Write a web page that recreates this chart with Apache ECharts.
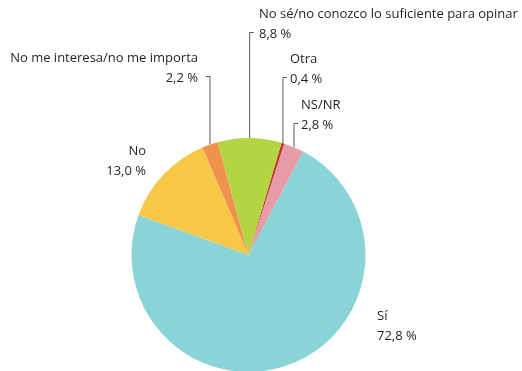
<!DOCTYPE html>
<html><head><meta charset="utf-8">
<script src="https://cdn.jsdelivr.net/npm/echarts@6/dist/echarts.min.js"></script>
<style>html,body{margin:0;padding:0;background:#fff}#c{width:522px;height:371px}</style>
</head><body><div id="c"></div>
<script>
// ---- data ----
const categories = ['Otra', 'NS/NR', 'Sí', 'No', 'No me interesa/no me importa', 'No sé/no conozco lo suficiente para opinar'];
const values = [0.4, 2.8, 72.8, 13.0, 2.2, 8.8];

// ---- style ----
const colors = ['#C0392B', '#E69BA6', '#8AD3D6', '#F7C748', '#F0924B', '#B4D444'];
// label block anchors (top of block), alignment and leader-line tick direction, by category index
const labelX = [290, 301, 377, 146, 198, 259];
const labelY = [49, 95, 306, 141, 48, 4];
const labelAlign = ['left', 'left', 'left', 'right', 'right', 'left'];
const tickDir = [1, 1, 0, 0, -1, 1];

const chart = echarts.init(document.getElementById('c'), null, {renderer: 'canvas'});
const fmt = v => v.toFixed(1).replace('.', ',') + ' %';

chart.setOption({
  animation: false,
  backgroundColor: '#ffffff',
  series: [{
    type: 'pie',
    center: [248.5, 255],
    radius: 117,
    startAngle: 73.6,
    clockwise: true,
    avoidLabelOverlap: false,
    silent: true,
    emphasis: {disabled: true},
    itemStyle: {borderWidth: 0},
    data: categories.map((c, i) => ({
      name: c,
      value: values[i],
      itemStyle: {color: colors[i]},
      labelLine: {show: tickDir[i] !== 0}
    })),
    label: {
      show: true,
      color: '#231F20',
      fontFamily: 'Open Sans',
      fontSize: 13,
      lineHeight: 20,
      formatter: p => p.name + '\n' + fmt(p.value)
    },
    labelLine: {
      show: true,
      lineStyle: {color: '#58595B', width: 1},
      smooth: false
    },
    labelLayout: function (p) {
      const i = p.dataIndex;
      const res = {x: labelX[i], y: labelY[i], align: labelAlign[i], verticalAlign: 'top'};
      if (tickDir[i] !== 0 && p.labelLinePoints) {
        const s = p.labelLinePoints[0];
        const ty = labelY[i] + 28.5;
        res.labelLinePoints = [[s[0], s[1]], [s[0], ty], [s[0] + 4 * tickDir[i], ty]];
      }
      return res;
    }
  }]
});
</script>
</body></html>
